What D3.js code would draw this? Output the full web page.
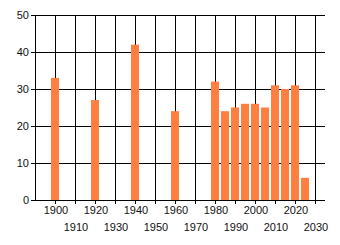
<!DOCTYPE html>
<html>
<head>
<meta charset="utf-8">
<script src="https://cdn.jsdelivr.net/npm/d3@7"></script>
<style>
  body { margin: 0; background: #fff; }
  svg text { font-family: "Liberation Sans", Arial, sans-serif; font-size: 11px; fill: #111; }
</style>
</head>
<body>
<svg id="chart" width="340" height="245"></svg>
<script>
// values
const years = [1900, 1920, 1940, 1960, 1980, 1985, 1990, 1995, 2000, 2005, 2010, 2015, 2020, 2025];
const values = [33, 27, 42, 24, 32, 24, 25, 26, 26, 25, 31, 30, 31, 6];
const yTicks = [0, 10, 20, 30, 40, 50];
const xTicks = d3.range(1900, 2031, 10);

const svg = d3.select("#chart");
const plotLeft = 35, plotRight = 325, plotTop = 15, plotBottom = 200;

// linear year axis, 1890 at the left edge
const x = d3.scaleLinear().domain([1890, 2035]).range([plotLeft, plotRight]);
const y = d3.scaleLinear().domain([0, 50]).range([plotBottom, plotTop]);

// grid
svg.append("g")
    .selectAll("line")
    .data(yTicks.slice(1))
    .join("line")
    .attr("x1", plotLeft - 4).attr("x2", plotRight)
    .attr("y1", d => Math.round(y(d)) + 0.5).attr("y2", d => Math.round(y(d)) + 0.5)
    .attr("stroke", "#000");

svg.append("g")
    .selectAll("line")
    .data(xTicks)
    .join("line")
    .attr("x1", d => Math.round(x(d)) + 0.5).attr("x2", d => Math.round(x(d)) + 0.5)
    .attr("y1", plotTop).attr("y2", plotBottom + 4)
    .attr("stroke", "#000");

// bars, 4 years wide
svg.append("g")
    .selectAll("rect")
    .data(years)
    .join("rect")
    .attr("x", d => x(d - 2))
    .attr("width", x(1894) - x(1890))
    .attr("y", (d, i) => y(values[i]))
    .attr("height", (d, i) => plotBottom - y(values[i]))
    .attr("fill", "#ff7f40");

// axis lines
svg.append("line")
    .attr("x1", plotLeft + 0.5).attr("x2", plotLeft + 0.5)
    .attr("y1", plotTop).attr("y2", plotBottom)
    .attr("stroke", "#000");
svg.append("line")
    .attr("x1", plotLeft - 4).attr("x2", plotRight)
    .attr("y1", plotBottom + 0.5).attr("y2", plotBottom + 0.5)
    .attr("stroke", "#000");

// y labels
svg.append("g")
    .selectAll("text")
    .data(yTicks)
    .join("text")
    .attr("x", plotLeft - 6)
    .attr("y", d => y(d) + 4)
    .attr("text-anchor", "end")
    .text(d => d);

// x labels, staggered on two rows
svg.append("g")
    .selectAll("text")
    .data(xTicks)
    .join("text")
    .attr("x", d => x(d) + 1)
    .attr("y", (d, i) => i % 2 === 0 ? 214 : 231)
    .attr("text-anchor", "middle")
    .text(d => d);
</script>
</body>
</html>
